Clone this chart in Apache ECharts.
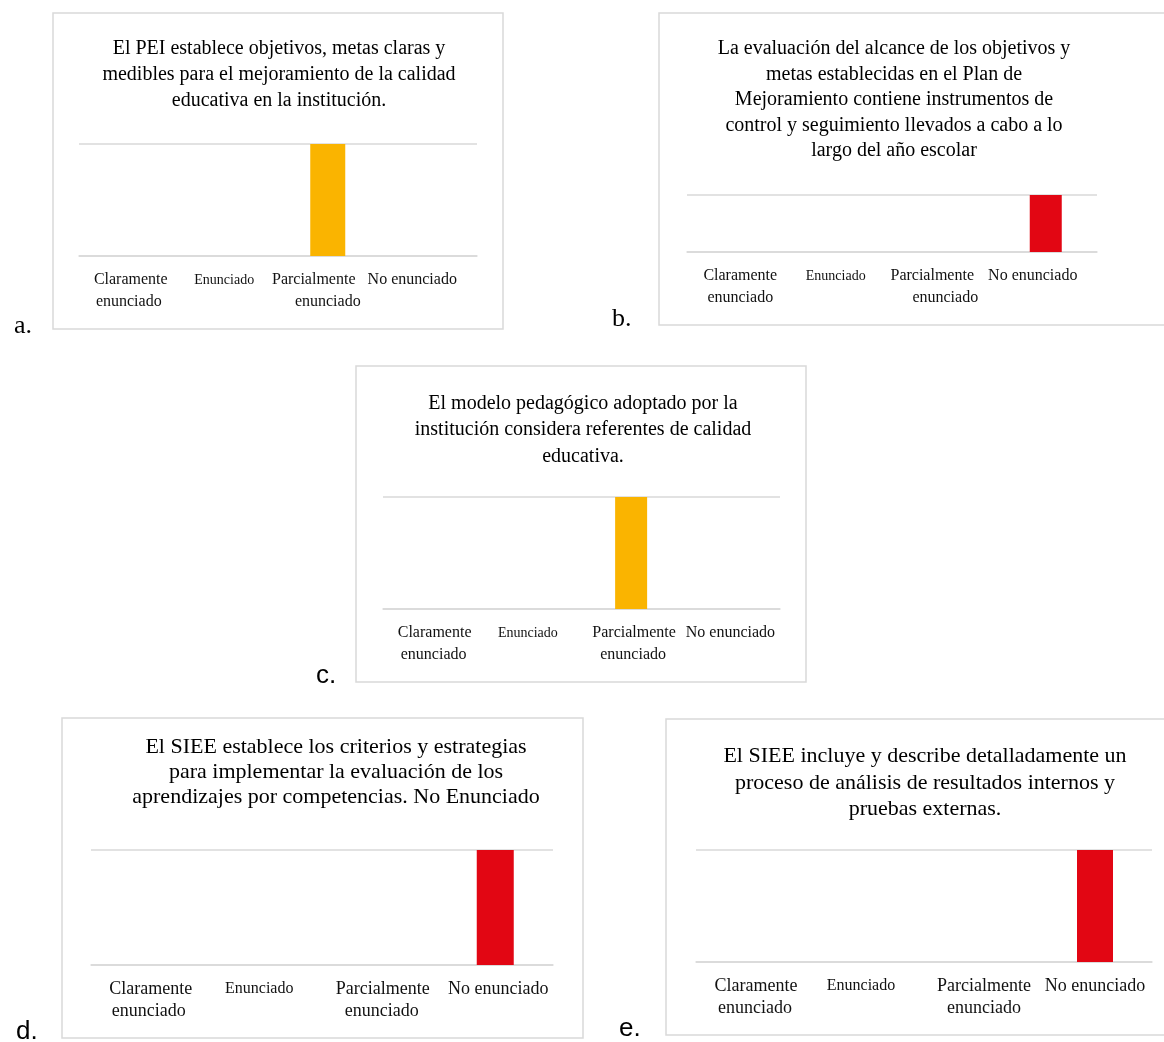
<!DOCTYPE html>
<html>
<head>
<meta charset="utf-8">
<script src="https://cdn.jsdelivr.net/npm/echarts@6/dist/echarts.min.js"></script>
<style>
html,body{margin:0;padding:0;background:#fff;}
#chart{width:1164px;height:1042px;}
</style>
</head>
<body>
<div id="chart"></div>
<script>
// ---- data ----
const categories = ['Claramente\nenunciado', 'Enunciado', 'Parcialmente\nenunciado', 'No enunciado'];
const valuesA = [0, 0, 1, 0];
const valuesB = [0, 0, 0, 1];
const valuesC = [0, 0, 1, 0];
const valuesD = [0, 0, 0, 1];
const valuesE = [0, 0, 0, 1];
const titleA = 'El PEI establece objetivos, metas claras y\nmedibles para el mejoramiento de la calidad\neducativa en la institución.';
const titleB = 'La evaluación del alcance de los objetivos y\nmetas establecidas en el Plan de\nMejoramiento contiene instrumentos de\ncontrol y seguimiento llevados a cabo a lo\nlargo del año escolar';
const titleC = 'El modelo pedagógico adoptado por la\ninstitución considera referentes de calidad\neducativa.';
const titleD = 'El SIEE establece los criterios y estrategias\npara implementar la evaluación de los\naprendizajes por competencias. No Enunciado';
const titleE = 'El SIEE incluye y describe detalladamente un\nproceso de análisis de resultados internos y\npruebas externas.';
const panelLetters = ['a.', 'b.', 'c.', 'd.', 'e.'];

const ORANGE = '#FAB400';
const RED = '#E20613';
const GRID_C = '#d9d9d9';
const SERIF = '"Liberation Serif", "Times New Roman", serif';
const SANS = '"Liberation Sans", Arial, sans-serif';

// layout of each panel (positions / styles only)
// shifts: horizontal offset (px) of each label line, per category
const panels = [
  {values: valuesA, title: titleA, color: ORANGE, tx: 279, ty: 36, lh: 26, tfs: 20,
   grid: {left: 79, top: 144, width: 398, height: 112}, bw: 35, lfs: 16, efs: 14,
   shifts: [[2, 0], [-4], [-14, 0], [-15]],
   box: [53, 13, 450, 316], letter: [14, 326], letterFont: SERIF},
  {values: valuesB, title: titleB, color: RED, tx: 894, ty: 36, lh: 25.5, tfs: 20,
   grid: {left: 687, top: 195, width: 410, height: 57}, bw: 32, lfs: 16, efs: 14,
   shifts: [[2, 2], [-5], [-11, 2], [-13]],
   box: [659, 13, 520, 312], letter: [612, 319], letterFont: SERIF},
  {values: valuesC, title: titleC, color: ORANGE, tx: 583, ty: 390, lh: 26.5, tfs: 20,
   grid: {left: 383, top: 497, width: 397, height: 112}, bw: 32, lfs: 16, efs: 14,
   shifts: [[2, 1], [-4], [3, 2], [0]],
   box: [356, 366, 450, 316], letter: [316, 676], letterFont: SANS},
  {values: valuesD, title: titleD, color: RED, tx: 336, ty: 735, lh: 25, tfs: 22,
   grid: {left: 91, top: 850, width: 462, height: 115}, bw: 37, lfs: 18, efs: 16,
   shifts: [[2, 0], [-5], [3, 2], [3]],
   box: [62, 718, 521, 320], letter: [16, 1032], letterFont: SANS},
  {values: valuesE, title: titleE, color: RED, tx: 925, ty: 743, lh: 26.5, tfs: 22,
   grid: {left: 696, top: 850, width: 456, height: 112}, bw: 36, lfs: 18, efs: 16,
   shifts: [[3, 2], [-6], [3, 3], [0]],
   box: [666, 719, 520, 316], letter: [619, 1029], letterFont: SANS}
];

const option = {
  backgroundColor: '#fff',
  animation: false,
  title: [], grid: [], xAxis: [], yAxis: [], series: [], graphic: []
};

panels.forEach((p, i) => {
  option.graphic.push({
    type: 'rect', silent: true, z: -1,
    shape: {x: p.box[0], y: p.box[1], width: p.box[2], height: p.box[3]},
    style: {fill: '#fff', stroke: GRID_C, lineWidth: 1.5}
  });
  option.graphic.push({
    type: 'text', silent: true,
    x: p.letter[0], y: p.letter[1],
    style: {text: panelLetters[i], fontSize: 26, fontFamily: p.letterFont, fill: '#000', verticalAlign: 'middle', textVerticalAlign: 'middle'}
  });
  option.title.push({
    text: p.title, left: p.tx, top: p.ty, textAlign: 'center', padding: 0,
    textStyle: {fontFamily: SERIF, fontSize: p.tfs, fontWeight: 'normal', color: '#000', lineHeight: p.lh}
  });
  option.grid.push(Object.assign({containLabel: false}, p.grid));

  // rich styles for shifted label lines
  const rich = {};
  p.shifts.forEach((arr, ci) => arr.forEach((s, li) => {
    const isEnun = categories[ci] === 'Enunciado';
    rich['s' + ci + '_' + li] = {
      fontFamily: SERIF, fontSize: isEnun ? p.efs : p.lfs, lineHeight: 22, color: '#111',
      padding: s < 0 ? [0, -2 * s, 0, 0] : [0, 0, 0, 2 * s]
    };
  }));

  option.xAxis.push({
    type: 'category', gridIndex: i, data: categories,
    axisLine: {show: true, lineStyle: {color: GRID_C, width: 1.5}},
    axisTick: {show: false},
    axisLabel: {
      interval: 0, margin: 13, color: '#111', fontFamily: SERIF, fontSize: p.lfs, lineHeight: 22,
      formatter: (v, idx) => v.split('\n').map((line, li) => '{s' + idx + '_' + li + '|' + line + '}').join('\n'),
      rich: rich
    }
  });
  option.yAxis.push({
    type: 'value', gridIndex: i, min: 0, max: 1, interval: 1,
    axisLabel: {show: false}, axisLine: {show: false}, axisTick: {show: false},
    splitLine: {show: true, lineStyle: {color: GRID_C, width: 1.5}}
  });
  option.series.push({
    type: 'bar', xAxisIndex: i, yAxisIndex: i, data: p.values,
    barWidth: p.bw, itemStyle: {color: p.color}, silent: true
  });
});

const chart = echarts.init(document.getElementById('chart'), null, {renderer: 'canvas'});
chart.setOption(option);
</script>
</body>
</html>
